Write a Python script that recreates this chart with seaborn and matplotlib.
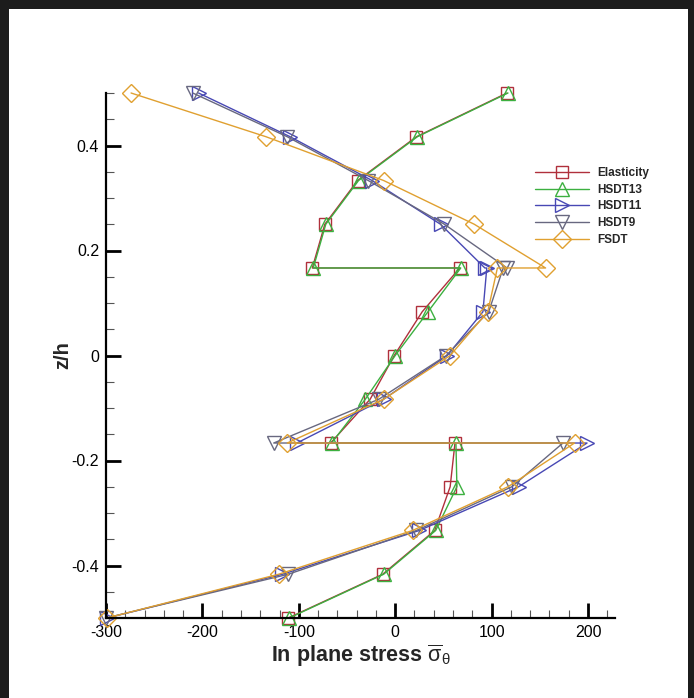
import numpy as np
import pandas as pd
import seaborn as sns
import matplotlib.pyplot as plt
from matplotlib.ticker import MultipleLocator, FuncFormatter
from matplotlib.patches import Rectangle

# z/h through the three layers (interfaces at +-1/6 repeated)
z = [0.5, 0.4167, 0.3333, 0.25, 0.1667,
     0.1667, 0.0833, 0.0, -0.0833, -0.1667,
     -0.1667, -0.25, -0.3333, -0.4167, -0.5]

elasticity = [116, 22, -39, -73, -86, 67, 28, -1, -26, -67, 62, 57, 41, -13, -111]
hsdt13 = [117, 23, -38, -72, -85, 68, 34, 0, -31, -66, 63, 64, 42, -12, -110]
hsdt11 = [-204, -109, -24, 47, 93, 95, 91, 54, -12, -102, 199, 128, 25, -117, -299]
hsdt9 = [-210, -112, -28, 51, 116, 112, 97, 53, -17, -126, 174, 121, 22, -111, -300]
fsdt = [-274, -134, -12, 82, 156, 106, 96, 57, -12, -112, 186, 117, 18, -121, -299]

names = ['Elasticity', 'HSDT13', 'HSDT11', 'HSDT9', 'FSDT']
series = [elasticity, hsdt13, hsdt11, hsdt9, fsdt]
colors = ['#b0303c', '#3cb040', '#4848b4', '#686880', '#e0a030']
markers = ['s', '^', '>', 'v', 'D']
msizes = [9, 10, 10, 10, 9]

sns.set_style('ticks')
plt.rcParams['font.family'] = ['Liberation Sans', 'DejaVu Sans']
plt.rcParams['axes.unicode_minus'] = False
plt.rcParams['mathtext.fontset'] = 'custom'
plt.rcParams['mathtext.rm'] = 'Liberation Sans'
plt.rcParams['mathtext.it'] = 'Liberation Sans'

fig = plt.figure(figsize=(6.94, 6.98), dpi=100, facecolor='#1c1c1c')
fig.patches.append(Rectangle((9 / 694, 0), 679 / 694, 689 / 698,
                             transform=fig.transFigure, facecolor='white',
                             edgecolor='none', zorder=-10))
ax = fig.add_axes([106 / 694, 1 - 618 / 698, 509 / 694, 525 / 698])
ax.set_facecolor('none')

for name, vals, c, m, ms in zip(names, series, colors, markers, msizes):
    df = pd.DataFrame({'stress': vals, 'z': z})
    sns.lineplot(data=df, x='stress', y='z', sort=False, estimator=None,
                 color=c, marker=m, markersize=ms, markerfacecolor='none',
                 markeredgecolor=c, markeredgewidth=1.0, linewidth=1.0,
                 label=name, ax=ax, clip_on=False)

ax.set_xlim(-300, 228)
ax.set_ylim(-0.5, 0.5)
ax.xaxis.set_major_locator(MultipleLocator(100))
ax.xaxis.set_minor_locator(MultipleLocator(20))
ax.yaxis.set_major_locator(MultipleLocator(0.2))
ax.yaxis.set_minor_locator(MultipleLocator(0.05))
ax.yaxis.set_major_formatter(FuncFormatter(lambda v, p: '%g' % round(v, 2)))
ax.tick_params(which='major', direction='in', length=11, width=2, labelsize=11.5,
               colors='black', pad=5)
ax.tick_params(which='minor', direction='in', length=6, width=0.8, colors='#555555')

sns.despine(ax=ax)
for s in ['left', 'bottom']:
    ax.spines[s].set_linewidth(1.6)
    ax.spines[s].set_color('black')

ax.set_xlabel(r'In plane stress $\overline{\sigma}_{\theta}$', fontsize=15.5,
              fontweight='bold', labelpad=2)
ax.set_ylabel('z/h', fontsize=14.5, fontweight='bold', labelpad=-1)

ax.legend(loc='upper left', bbox_to_anchor=(535 / 694, 1 - 167 / 698),
          bbox_transform=fig.transFigure, frameon=False, handlelength=4.6,
          handletextpad=0.7, labelspacing=0.4, borderpad=0, borderaxespad=0,
          prop={'weight': 'bold', 'size': 8.5})

fig.savefig('out.png', dpi=100, facecolor=fig.get_facecolor())
